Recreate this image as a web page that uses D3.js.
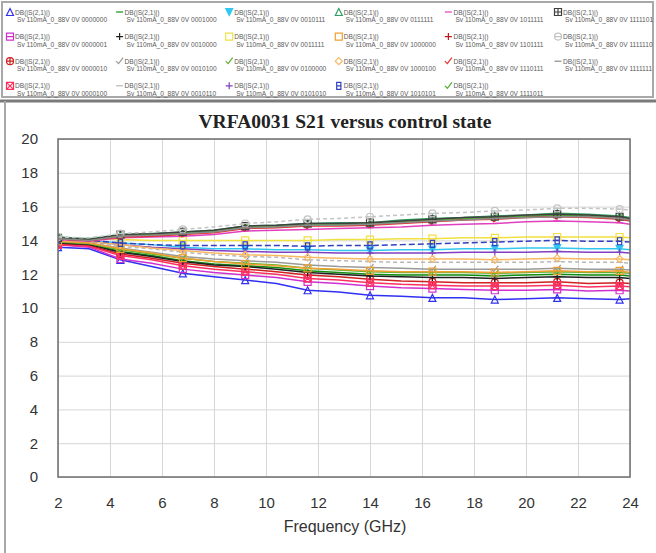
<!DOCTYPE html>
<meta charset="utf-8">
<head>
<style>
  body { margin: 0; background: #fff; }
  svg { display: block; font-family: "Liberation Sans", Arial, sans-serif; }
  .grid line { stroke: #d6d6d6; stroke-width: 1; }
  .grid path { display: none; }
  .axis path { display: none; }
  .axis text { font-size: 15px; fill: #333; }
  .legend-text { font-size: 6.6px; fill: #5a5a5a; }
  .title { font-family: "Liberation Serif", "Times New Roman", serif; font-weight: bold; font-size: 18px; fill: #222; }
  .xlabel { font-size: 16px; fill: #333; }
</style>
<script src="https://cdn.jsdelivr.net/npm/d3@7"></script>
</head>
<body>
<svg id="chart" width="656" height="553"></svg>
<script>
// frequency points (GHz), markers on every other point
var freqs = [2, 3.2, 4.4, 5.6, 6.8, 8, 9.2, 10.4, 11.6, 12.8, 14, 15.2, 16.4, 17.6, 18.8, 20, 21.2, 22.4, 23.6, 24];

// control states, legend order (4 rows, column by column)
var states = ["0000000", "0000001", "0000010", "0000100",
              "0001000", "0010000", "0010100", "0010110",
              "0010111", "0011111", "0100000", "0101010",
              "0111111", "1000000", "1000100", "1010101",
              "1011111", "1101111", "1110111", "1111011",
              "1111101", "1111110", "1111111"];

// S21 in dB
var s0000000 = [13.6, 13.5, 12.85, 12.45, 12.05, 11.85, 11.65, 11.45, 11.05, 10.95, 10.75, 10.7, 10.6, 10.6, 10.5, 10.55, 10.6, 10.55, 10.5, 10.55];
var s0000001 = [13.75, 13.6, 12.9, 12.65, 12.3, 12.1, 11.95, 11.8, 11.55, 11.45, 11.3, 11.2, 11.15, 11.1, 11.05, 11.05, 11.1, 11.0, 11.05, 11.0];
var s0000010 = [13.8, 13.7, 13.2, 12.95, 12.65, 12.45, 12.3, 12.15, 11.95, 11.85, 11.7, 11.6, 11.55, 11.5, 11.5, 11.5, 11.55, 11.45, 11.5, 11.45];
var s0000100 = [13.75, 13.65, 13.1, 12.85, 12.5, 12.3, 12.15, 12.0, 11.75, 11.65, 11.5, 11.4, 11.35, 11.3, 11.3, 11.3, 11.35, 11.25, 11.3, 11.25];
var s0001000 = [13.9, 13.8, 13.35, 13.1, 12.8, 12.6, 12.5, 12.4, 12.2, 12.1, 12.0, 11.95, 11.95, 11.95, 11.9, 11.95, 12.0, 11.95, 11.95, 11.9];
var s0010000 = [13.85, 13.75, 13.3, 13.05, 12.75, 12.55, 12.45, 12.3, 12.1, 12.0, 11.9, 11.85, 11.8, 11.8, 11.75, 11.8, 11.85, 11.8, 11.8, 11.75];
var s0010100 = [13.95, 13.85, 13.55, 13.3, 13.05, 12.9, 12.8, 12.7, 12.55, 12.45, 12.4, 12.35, 12.3, 12.3, 12.3, 12.3, 12.35, 12.3, 12.3, 12.25];
var s0010110 = [14.0, 13.9, 13.65, 13.5, 13.3, 13.15, 13.05, 13.0, 12.85, 12.8, 12.75, 12.7, 12.7, 12.7, 12.7, 12.7, 12.75, 12.7, 12.7, 12.65];
var s0010111 = [14.05, 14.0, 13.85, 13.75, 13.6, 13.5, 13.5, 13.45, 13.45, 13.4, 13.4, 13.45, 13.45, 13.5, 13.5, 13.55, 13.55, 13.5, 13.5, 13.45];
var s0011111 = [14.1, 14.1, 14.05, 14.0, 14.0, 14.0, 14.0, 14.0, 14.0, 14.05, 14.05, 14.1, 14.1, 14.15, 14.15, 14.2, 14.2, 14.2, 14.2, 14.15];
var s0100000 = [13.9, 13.8, 13.45, 13.2, 12.95, 12.75, 12.65, 12.55, 12.35, 12.25, 12.15, 12.1, 12.1, 12.1, 12.05, 12.1, 12.15, 12.1, 12.1, 12.05];
var s0101010 = [14.0, 13.95, 13.75, 13.6, 13.5, 13.4, 13.35, 13.3, 13.3, 13.25, 13.25, 13.25, 13.25, 13.3, 13.3, 13.3, 13.35, 13.3, 13.3, 13.25];
var s0111111 = [14.2, 14.1, 14.35, 14.4, 14.5, 14.6, 14.85, 14.9, 15.0, 15.05, 15.05, 15.2, 15.3, 15.35, 15.45, 15.5, 15.6, 15.55, 15.45, 15.35];
var s1000000 = [13.95, 13.85, 13.5, 13.25, 12.95, 12.75, 12.6, 12.5, 12.35, 12.3, 12.2, 12.15, 12.15, 12.15, 12.1, 12.15, 12.2, 12.15, 12.2, 12.1];
var s1000100 = [14.0, 13.95, 13.75, 13.55, 13.4, 13.25, 13.15, 13.1, 13.0, 12.95, 12.9, 12.9, 12.9, 12.9, 12.85, 12.9, 12.95, 12.9, 12.9, 12.85];
var s1010101 = [14.05, 14.0, 13.85, 13.75, 13.7, 13.7, 13.7, 13.7, 13.65, 13.7, 13.7, 13.75, 13.8, 13.85, 13.9, 13.95, 14.0, 13.95, 13.95, 13.9];
var s1011111 = [14.05, 13.95, 14.15, 14.2, 14.25, 14.35, 14.55, 14.6, 14.65, 14.7, 14.75, 14.8, 14.9, 14.95, 15.0, 15.1, 15.15, 15.1, 15.05, 14.95];
var s1101111 = [14.1, 14.0, 14.25, 14.3, 14.4, 14.5, 14.75, 14.8, 14.9, 14.9, 14.95, 15.05, 15.15, 15.25, 15.3, 15.4, 15.45, 15.4, 15.3, 15.2];
var s1110111 = [14.1, 14.0, 14.2, 14.25, 14.35, 14.45, 14.7, 14.75, 14.85, 14.85, 14.9, 15.0, 15.1, 15.2, 15.25, 15.35, 15.4, 15.35, 15.25, 15.15];
var s1111011 = [14.15, 14.05, 14.3, 14.35, 14.45, 14.55, 14.8, 14.85, 14.95, 14.95, 15.0, 15.1, 15.2, 15.3, 15.35, 15.45, 15.5, 15.45, 15.4, 15.3];
var s1111101 = [14.15, 14.05, 14.35, 14.4, 14.5, 14.6, 14.85, 14.9, 15.0, 15.0, 15.05, 15.15, 15.25, 15.35, 15.4, 15.5, 15.55, 15.5, 15.4, 15.3];
var s1111110 = [14.2, 14.15, 14.4, 14.5, 14.65, 14.8, 15.0, 15.1, 15.25, 15.3, 15.4, 15.5, 15.6, 15.65, 15.75, 15.8, 15.9, 15.9, 15.85, 15.8];
var s1111111 = [14.1, 14.0, 14.25, 14.3, 14.4, 14.5, 14.75, 14.8, 14.9, 14.9, 14.95, 15.05, 15.15, 15.2, 15.3, 15.35, 15.4, 15.4, 15.3, 15.2];

var stateValues = [s0000000, s0000001, s0000010, s0000100, s0001000, s0010000, s0010100, s0010110,
                   s0010111, s0011111, s0100000, s0101010, s0111111, s1000000, s1000100, s1010101,
                   s1011111, s1101111, s1110111, s1111011, s1111101, s1111110, s1111111];

var xTicks = [2, 4, 6, 8, 10, 12, 14, 16, 18, 20, 22, 24];
var yTicks = [0, 2, 4, 6, 8, 10, 12, 14, 16, 18, 20];

// styles per state
var colors = ["#3030f0", "#d030d0", "#d02020", "#ff3060",
              "#109010", "#202020", "#9a9a9a", "#b8b8b8",
              "#30c8f0", "#f0e040", "#60b030", "#8040c0",
              "#30a060", "#f0a030", "#f8b860", "#3040c0",
              "#e040c0", "#c01818", "#e83030", "#50b030",
              "#404040", "#c4c4c4", "#8a8a8a"];
var markers = ["tri", "sqLine", "circPlus", "sqX",
               "dash", "plus", "check", "dash",
               "triDown", "square", "check", "plus",
               "tri", "square", "diamond", "eight",
               "dash", "plus", "check", "check",
               "sqPlus", "circLine", "dash"];
var filled = {"triDown": 1, "square": 0};
var dashes = {"1010101": "6,3", "1111110": "4,3", "0010110": "4,3"};

var series = states.map(function(s, i) {
  return {state: s, color: colors[i], marker: markers[i],
          points: freqs.map(function(f, j) { return {f: f, v: stateValues[i][j], j: j}; })};
});

function markerPath(type, r) {
  var sq = "M" + (-r) + "," + (-r) + "h" + 2 * r + "v" + 2 * r + "h" + (-2 * r) + "z";
  var circ = "M" + r + ",0A" + r + "," + r + " 0 1 1 " + (-r) + ",0A" + r + "," + r + " 0 1 1 " + r + ",0";
  var hl = "M" + (-r) + ",0h" + 2 * r;
  var vl = "M0," + (-r) + "v" + 2 * r;
  switch (type) {
    case "tri": return "M0," + (-r) + "L" + r + "," + r + "L" + (-r) + "," + r + "z";
    case "triDown": return "M0," + r + "L" + r + "," + (-r) + "L" + (-r) + "," + (-r) + "z";
    case "square": return sq;
    case "sqLine": return sq + hl;
    case "sqPlus": return sq + hl + vl;
    case "sqX": return sq + "M" + (-r) + "," + (-r) + "L" + r + "," + r + "M" + r + "," + (-r) + "L" + (-r) + "," + r;
    case "circle": return circ;
    case "circPlus": return circ + hl + vl;
    case "circLine": return circ + hl;
    case "plus": return hl + vl;
    case "dash": return hl;
    case "check": return "M" + (-r) + ",0L" + (-r * 0.3) + "," + (r * 0.7) + "L" + r + "," + (-r);
    case "diamond": return "M0," + (-r) + "L" + r + ",0L0," + r + "L" + (-r) + ",0z";
    case "eight": return "M" + (-r * 0.6) + "," + (-r) + "h" + 1.2 * r + "v" + r + "h" + (-1.2 * r) + "z" +
                         "M" + (-r * 0.6) + ",0h" + 1.2 * r + "v" + r + "h" + (-1.2 * r) + "z";
  }
}

var svg = d3.select("#chart");

// legend box
svg.append("rect").attr("x", 2).attr("y", 2).attr("width", 651).attr("height", 95)
   .attr("fill", "#fff").attr("stroke", "#a8a8a8").attr("stroke-width", 2);

var leg = svg.append("g").selectAll("g").data(series).enter().append("g")
  .attr("transform", function(d, i) {
    return "translate(" + (10 + Math.floor(i / 4) * 109.6) + "," + (12 + (i % 4) * 24.6) + ")";
  });
leg.append("path")
  .attr("d", function(d) { return markerPath(d.marker, 3.5); })
  .attr("fill", function(d) { return filled[d.marker] ? d.color : "none"; })
  .attr("stroke", function(d) { return d.color; })
  .attr("stroke-width", 1.2);
leg.append("text").attr("class", "legend-text").attr("x", 5).attr("y", 2.5).text("DB(|S(2,1)|)");
leg.append("text").attr("class", "legend-text").attr("x", 7).attr("y", 10)
  .text(function(d) { return "Sv 110mA_0_88V 0V " + d.state; });

// chart frame
svg.append("line").attr("x1", 0).attr("x2", 656).attr("y1", 101).attr("y2", 101)
   .attr("stroke", "#7a7a7a").attr("stroke-width", 3);
svg.append("line").attr("x1", 5).attr("x2", 5).attr("y1", 101).attr("y2", 553)
   .attr("stroke", "#a8a8a8").attr("stroke-width", 2);

var plotLeft = 58, plotRight = 630, plotTop = 139, plotBottom = 477;
var x = d3.scaleLinear().domain([2, 24]).range([plotLeft, plotRight]);
var y = d3.scaleLinear().domain([0, 20]).range([plotBottom, plotTop]);

svg.append("text").attr("class", "title").attr("x", 345).attr("y", 128)
   .attr("text-anchor", "middle").attr("textLength", 293).attr("lengthAdjust", "spacingAndGlyphs")
   .text("VRFA0031 S21 versus control state");

// grid
svg.append("g").attr("class", "grid").attr("transform", "translate(0," + plotBottom + ")")
   .call(d3.axisBottom(x).tickValues(xTicks).tickSize(-(plotBottom - plotTop)).tickFormat(""));
svg.append("g").attr("class", "grid").attr("transform", "translate(" + plotLeft + ",0)")
   .call(d3.axisLeft(y).tickValues(yTicks).tickSize(-(plotRight - plotLeft)).tickFormat(""));

// axes labels
svg.append("g").attr("class", "axis").attr("transform", "translate(0," + plotBottom + ")")
   .call(d3.axisBottom(x).tickValues(xTicks).tickSize(0).tickPadding(20));
svg.append("g").attr("class", "axis").attr("transform", "translate(" + plotLeft + ",0)")
   .call(d3.axisLeft(y).tickValues(yTicks).tickSize(0).tickPadding(20));

svg.append("text").attr("class", "xlabel").attr("x", 345).attr("y", 532)
   .attr("text-anchor", "middle").text("Frequency (GHz)");

// data
svg.append("clipPath").attr("id", "clip").append("rect")
   .attr("x", plotLeft).attr("y", plotTop).attr("width", plotRight - plotLeft).attr("height", plotBottom - plotTop);

var line = d3.line().x(function(d) { return x(d.f); }).y(function(d) { return y(d.v); });

var sg = svg.append("g").attr("clip-path", "url(#clip)").selectAll("g").data(series).enter().append("g");
sg.append("path")
  .attr("d", function(d) { return line(d.points); })
  .attr("fill", "none")
  .attr("stroke", function(d) { return d.color; })
  .attr("stroke-width", 1.5)
  .attr("stroke-dasharray", function(d) { return dashes[d.state] || null; });
sg.selectAll(".mk").data(function(d) {
    return d.points.filter(function(p) { return p.j % 2 === 0; }).map(function(p) { return {p: p, s: d}; });
  }).enter().append("path")
  .attr("class", "mk")
  .attr("transform", function(d) { return "translate(" + x(d.p.f) + "," + y(d.p.v) + ")"; })
  .attr("d", function(d) { return markerPath(d.s.marker, 3.5); })
  .attr("fill", function(d) { return filled[d.s.marker] ? d.s.color : "none"; })
  .attr("stroke", function(d) { return d.s.color; })
  .attr("stroke-width", 1.2);

// plot border
svg.append("rect").attr("x", plotLeft).attr("y", plotTop).attr("width", plotRight - plotLeft).attr("height", plotBottom - plotTop)
   .attr("fill", "none").attr("stroke", "#6e6e6e").attr("stroke-width", 1.5);
</script>
</body>
